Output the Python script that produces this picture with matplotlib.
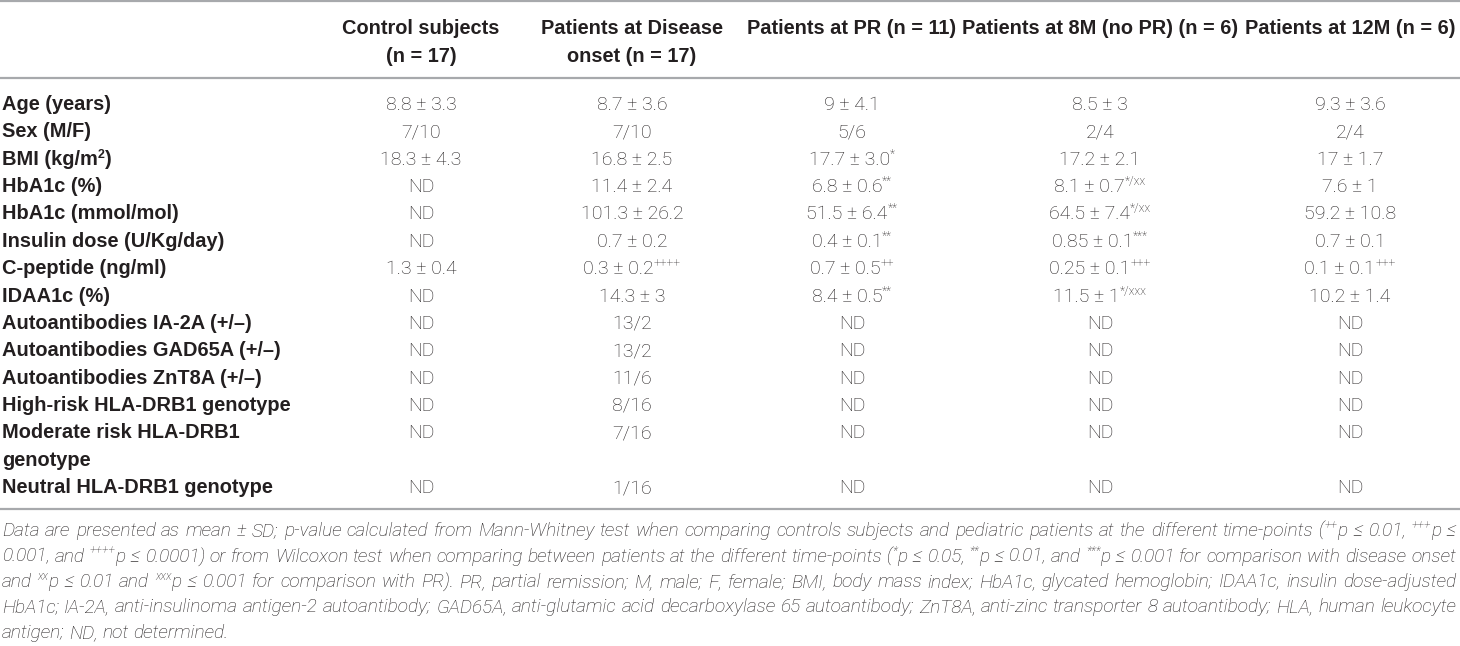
import re
import matplotlib.pyplot as plt

# ---- table content ----
headers = ["Control subjects\n(n = 17)", "Patients at Disease\nonset (n = 17)",
           "Patients at PR (n = 11)", "Patients at 8M (no PR) (n = 6)",
           "Patients at 12M (n = 6)"]

row_labels = ["Age (years)", "Sex (M/F)", "BMI (kg/m^{2})", "HbA1c (%)",
              "HbA1c (mmol/mol)", "Insulin dose (U/Kg/day)", "C-peptide (ng/ml)",
              "IDAA1c (%)", "Autoantibodies IA-2A (+/–)",
              "Autoantibodies GAD65A (+/–)", "Autoantibodies ZnT8A (+/–)",
              "High-risk HLA-DRB1 genotype", "Moderate risk HLA-DRB1\ngenotype",
              "Neutral HLA-DRB1 genotype"]

control = ["8.8 ± 3.3", "7/10", "18.3 ± 4.3", "ND", "ND", "ND", "1.3 ± 0.4",
           "ND", "ND", "ND", "ND", "ND", "ND", "ND"]
onset = ["8.7 ± 3.6", "7/10", "16.8 ± 2.5", "11.4 ± 2.4", "101.3 ± 26.2",
         "0.7 ± 0.2", "0.3 ± 0.2^{++++}", "14.3 ± 3", "13/2", "13/2", "11/6",
         "8/16", "7/16", "1/16"]
pr = ["9 ± 4.1", "5/6", "17.7 ± 3.0^{*}", "6.8 ± 0.6^{**}", "51.5 ± 6.4^{**}",
      "0.4 ± 0.1^{**}", "0.7 ± 0.5^{++}", "8.4 ± 0.5^{**}", "ND", "ND", "ND",
      "ND", "ND", "ND"]
m8 = ["8.5 ± 3", "2/4", "17.2 ± 2.1", "8.1 ± 0.7^{*/xx}", "64.5 ± 7.4^{*/xx}",
      "0.85 ± 0.1^{***}", "0.25 ± 0.1^{+++}", "11.5 ± 1^{*/xxx}", "ND", "ND",
      "ND", "ND", "ND", "ND"]
m12 = ["9.3 ± 3.6", "2/4", "17 ± 1.7", "7.6 ± 1", "59.2 ± 10.8", "0.7 ± 0.1",
       "0.1 ± 0.1^{+++}", "10.2 ± 1.4", "ND", "ND", "ND", "ND", "ND", "ND"]

caption = [
    "Data are presented as mean ± SD; p-value calculated from Mann-Whitney test when comparing controls subjects and pediatric patients at the different time-points (^{++}p ≤ 0.01, ^{+++}p ≤",
    "0.001, and ^{++++}p ≤ 0.0001) or from Wilcoxon test when comparing between patients at the different time-points (^{*}p ≤ 0.05, ^{**}p ≤ 0.01, and ^{***}p ≤ 0.001 for comparison with disease onset",
    "and ^{xx}p ≤ 0.01 and ^{xxx}p ≤ 0.001 for comparison with PR). PR, partial remission; M, male; F, female; BMI, body mass index; HbA1c, glycated hemoglobin; IDAA1c, insulin dose-adjusted",
    "HbA1c; IA-2A, anti-insulinoma antigen-2 autoantibody; GAD65A, anti-glutamic acid decarboxylase 65 autoantibody; ZnT8A, anti-zinc transporter 8 autoantibody; HLA, human leukocyte",
    "antigen; ND, not determined.",
]

# ---- layout (pixels) ----
W, H = 1460, 646
INK = "#231f20"
RULE = "#a7a9ac"
col_x = [421, 632, 852, 1100, 1350]
head_y = [27, 55]
row_y0, row_dy = 103, 27.36
cap_y0, cap_dy = 530, 25.5

label_font = dict(family=["Liberation Sans", "DejaVu Sans"], weight="bold")
data_font = dict(family=["Roboto", "DejaVu Sans"], weight="light")
cap_font = dict(family=["Roboto", "DejaVu Sans"], weight="light", style="italic")
LABEL_PX, DATA_PX = 20, 19.5

fig = plt.figure(figsize=(W / 100, H / 100), dpi=100)
ax = fig.add_axes([0, 0, 1, 1])
ax.set_xlim(0, W)
ax.set_ylim(H, 0)
ax.axis("off")
renderer = fig.canvas.get_renderer()


def parse(s):
    out = []
    for m in re.finditer(r"\^\{([^}]*)\}|([^^]+)", s):
        if m.group(1) is not None:
            out.append((m.group(1), True))
        else:
            out.append((m.group(2), False))
    return out


_cache = {}


def text_w(s, px, font):
    key = (s, px, tuple(sorted((k, str(v)) for k, v in font.items())))
    if key not in _cache:
        t = ax.text(0, 0, "|" + s + "|", fontsize=px * 0.72, **font)
        b = ax.text(0, 0, "||", fontsize=px * 0.72, **font)
        _cache[key] = (t.get_window_extent(renderer).width
                       - b.get_window_extent(renderer).width)
        t.remove()
        b.remove()
    return _cache[key]


def runs_width(parts, px, font):
    return sum(text_w(s, px * 0.62 if sup else px, font) for s, sup in parts)


def draw_runs(x, y, parts, px, font, ha="left"):
    w = runs_width(parts, px, font)
    if ha == "center":
        x -= w / 2
    for s, sup in parts:
        size = px * 0.62 if sup else px
        dy = -px * 0.36 if sup else 0
        ax.text(x, y + dy, s, fontsize=size * 0.72, color=INK,
                va="baseline", ha="left", **font)
        x += text_w(s, size, font)


# ---- rules ----
for yy in [1, 78, 509]:
    ax.plot([0, W], [yy, yy], color=RULE, lw=1.6, solid_capstyle="butt")

# ---- header ----
for cx, h in zip(col_x, headers):
    for k, line in enumerate(h.split("\n")):
        draw_runs(cx, head_y[k] + 7, parse(line), LABEL_PX, label_font, "center")

# ---- body ----
columns = [control, onset, pr, m8, m12]
slot = 0
for i, lab in enumerate(row_labels):
    lines = lab.split("\n")
    for k, line in enumerate(lines):
        draw_runs(2, row_y0 + (slot + k) * row_dy + 7, parse(line),
                  LABEL_PX, label_font)
    for cx, col in zip(col_x, columns):
        draw_runs(cx, row_y0 + slot * row_dy + 7, parse(col[i]),
                  DATA_PX, data_font, "center")
    slot += len(lines)

# ---- justified caption ----
left, right = 2, 1456


def natural(line, px):
    words = [parse(w) for w in line.split(" ")]
    return (sum(runs_width(w, px, cap_font) for w in words)
            + text_w(" ", px, cap_font) * (len(words) - 1))


# pick the caption size so that the widest justified line just fits
base = 17
CAP_PX = base * (right - left) / max(natural(l, base) for l in caption[:-1]) * 0.995

for j, line in enumerate(caption):
    y = cap_y0 + j * cap_dy + 6
    words = [parse(w) for w in line.split(" ")]
    widths = [runs_width(w, CAP_PX, cap_font) for w in words]
    if j < len(caption) - 1:
        gap = (right - left - sum(widths)) / (len(words) - 1)
    else:
        gap = text_w(" ", CAP_PX, cap_font)
    x = left
    for w, wd in zip(words, widths):
        draw_runs(x, y, w, CAP_PX, cap_font)
        x += wd + gap

fig.savefig("out.png", dpi=100, facecolor="white")
